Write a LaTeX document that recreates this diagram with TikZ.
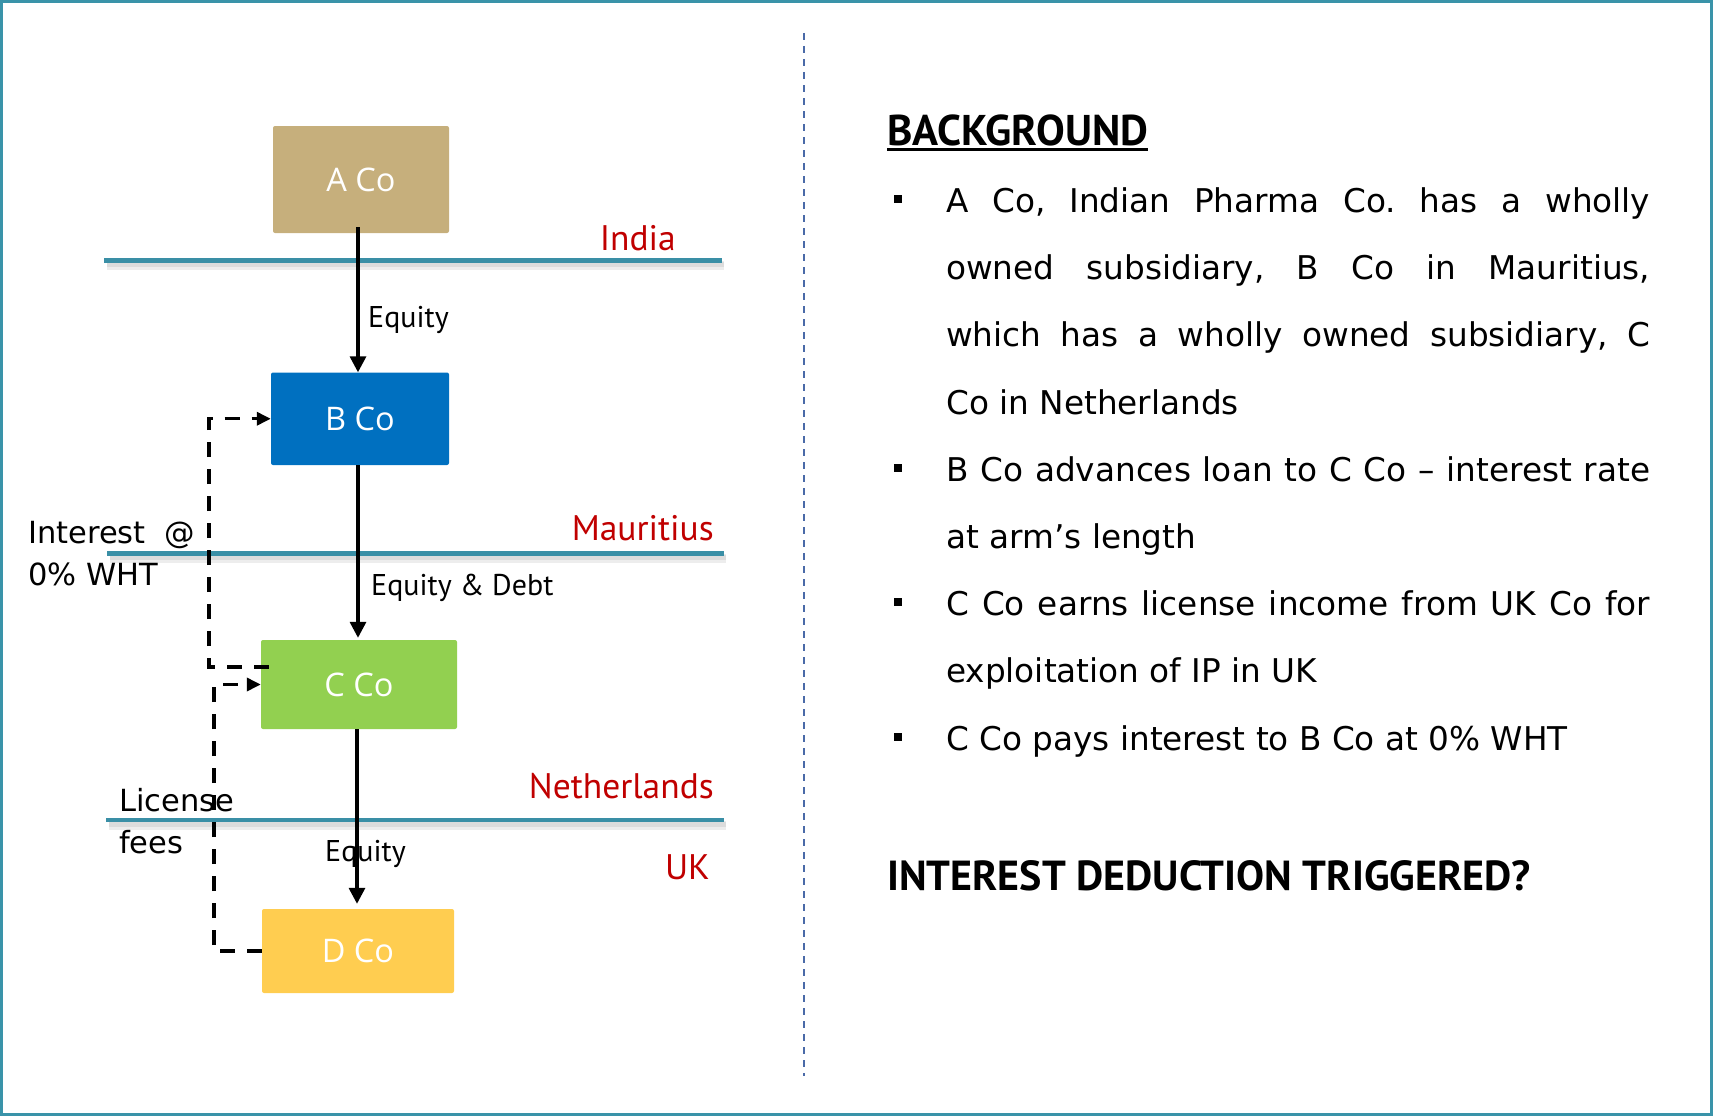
\documentclass[tikz,border=0pt]{standalone}
\usepackage{fontspec}
\setmainfont{PT Sans}
\newfontfamily\boxfont{Open Sans}
\newfontfamily\bodyfont{DejaVu Sans}
\usetikzlibrary{arrows.meta}
\definecolor{framecol}{HTML}{3A93A9}
\definecolor{bordercol}{HTML}{3A8FA6}
\definecolor{tanbox}{HTML}{C6AF7C}
\definecolor{bluebox}{HTML}{0070C0}
\definecolor{greenbox}{HTML}{92D050}
\definecolor{yellowbox}{HTML}{FFCD50}
\definecolor{country}{HTML}{C00000}
\definecolor{dividercol}{HTML}{4A6AA8}
\hyphenpenalty=10000
\exhyphenpenalty=10000
\frenchspacing
\begin{document}
\begin{tikzpicture}[x=1pt,y=-1pt,
  company/.style={rectangle, rounded corners=2pt, text=white, inner sep=0pt,
    font=\boxfont\fontsize{32.5}{38}\selectfont},
  border/.style={bordercol, line width=4.5pt},
  bordershadow/.style={black, opacity=0.07, line width=#1},
  region/.style={anchor=base east, inner sep=0pt, text=country,
    font=\fontsize{35.5}{44}\selectfont},
  flowlabel/.style={anchor=base west, inner sep=0pt,
    font=\fontsize{30}{36}\selectfont},
  paylabel/.style={anchor=base west, inner sep=0pt,
    font=\bodyfont\fontsize{30.5}{42}\selectfont},
  flow/.style={line width=3.3pt, -{Triangle[width=16pt,length=16pt]}},
  money/.style={line width=3.4pt, dash pattern=on 15pt off 12pt,
    -{Triangle[width=13pt,length=14pt]}},
  bulletsq/.style={fill=black, inner sep=0pt, minimum size=8pt},
  para/.style={anchor=base west, inner sep=0pt, text width=704pt, align=justify,
    font=\bodyfont\fontsize{32.7}{67.2}\selectfont}]
\useasboundingbox (0,0) rectangle (1713,1116);
\draw[framecol, line width=3pt] (1.5,1.5) rectangle (1711.5,1114.5);

% country borders with a soft shadow
\foreach \xa/\xb/\yy in {104/721.7/260.7, 107/724/553.5, 106/724/820}{
  \draw[bordershadow=9pt] (\xa+3,\yy+5) -- (\xb+2,\yy+5);
  \draw[bordershadow=5pt] (\xa+3,\yy+4) -- (\xb+2,\yy+4);
  \draw[border] (\xa,\yy) -- (\xb,\yy);
}

% country names
\node[region] (india) at (676,250) {India};
\node[region] (mauritius) at (714,540.7) {Mauritius};
\node[region] (netherlands) at (714,798) {Netherlands};
\node[region] (uk) at (710,879) {UK};

% flow labels
\node[flowlabel] (eq1) at (368,327) {Equity};
\node[flowlabel] (eqdebt) at (371,595) {Equity \& Debt};
\node[flowlabel] (eq2) at (325,861) {Equity};
\node[paylabel, text width=167pt, align=justify] (interest) at (28,543)
  {Interest @\linebreak 0\% WHT};
\node[paylabel, text width=140pt, align=left] (license) at (119,811.7)
  {License\\fees};

% companies
\node[company, fill=tanbox, minimum width=176pt, minimum height=107pt] (A) at (361,179.5) {A Co};
\node[company, fill=bluebox, minimum width=178pt, minimum height=92.5pt] (B) at (360,418.75) {B Co};
\node[company, fill=greenbox, minimum width=196pt, minimum height=89pt] (C) at (359,684.5) {C Co};
\node[company, fill=yellowbox, minimum width=192pt, minimum height=84pt] (D) at (358,951) {D Co};

% shareholdings
\draw[flow] ([xshift=-3pt,yshift=6pt]A.south) -- ([xshift=-2pt]B.north);
\draw[flow] ([xshift=-2pt]B.south) -- ([xshift=-1pt,yshift=2pt]C.north);
\draw[flow] ([xshift=-2pt]C.south) -- ([xshift=-1pt,yshift=5pt]D.north);

% payments
\draw[money] ([xshift=8pt,yshift=17.5pt]C.west) -- ++(-60,0) |- (B.west);
\draw[money] (D.west) -- ++(-48,0) |- (C.west);

% divider
\draw[dividercol, line width=2pt, dash pattern=on 7pt off 6pt] (804,33) -- (804,1076);

% background text
\node[anchor=base west, inner sep=0pt, font=\bfseries\fontsize{43}{50}\selectfont] (bg) at (887,145.3) {BACKGROUND};
\draw[line width=3pt] ([yshift=-4pt]bg.base west) -- ([yshift=-4pt]bg.base east);

\node[bulletsq] (b1) at (898,199) {};
\node[para] (p1) at (946,212.5) {A Co, Indian Pharma Co. has a wholly\linebreak owned subsidiary, B Co in Mauritius,\linebreak which has a wholly owned subsidiary, C\linebreak Co in Netherlands};
\node[bulletsq] (b2) at (898,468) {};
\node[para] (p2) at (946,481.3) {B Co advances loan to C Co – interest rate\linebreak at arm’s length};
\node[bulletsq] (b3) at (898,602) {};
\node[para] (p3) at (946,615.6) {C Co earns license income from UK Co for\linebreak exploitation of IP in UK};
\node[bulletsq] (b4) at (898,736.5) {};
\node[para] (p4) at (946,750) {C Co pays interest to B Co at 0\% WHT};

\node[anchor=base west, inner sep=0pt, font=\bfseries\fontsize{42}{50}\selectfont] (q) at (887,890) {INTEREST DEDUCTION TRIGGERED?};
\end{tikzpicture}
\end{document}
